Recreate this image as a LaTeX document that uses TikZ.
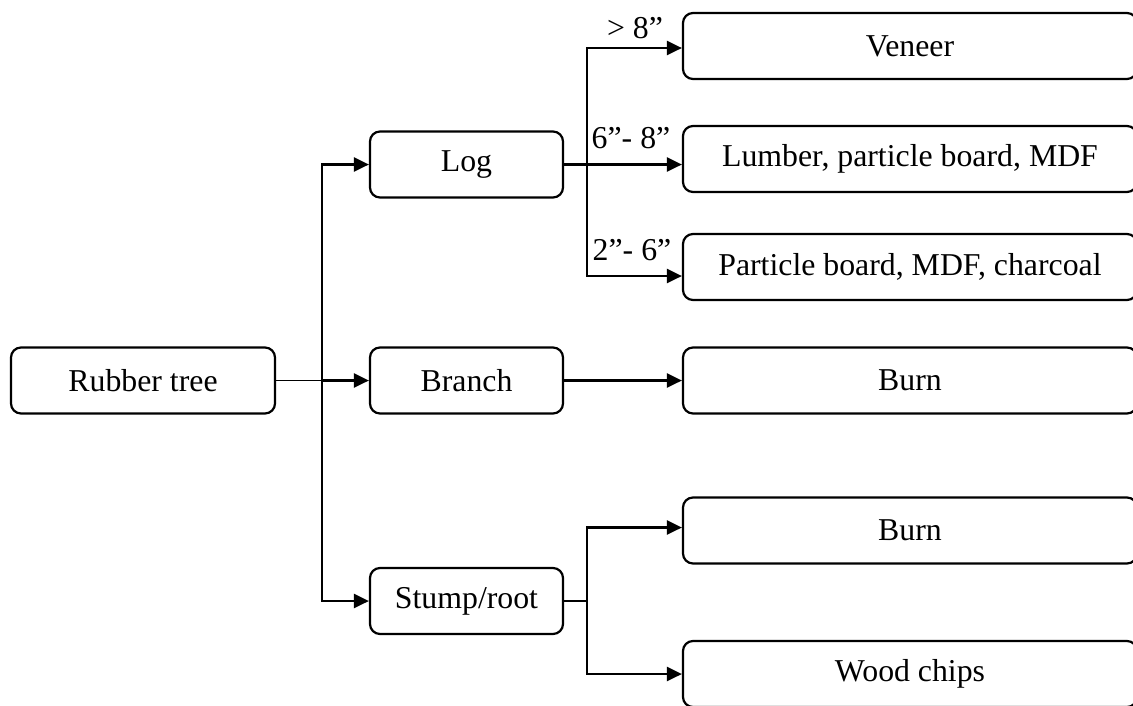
\documentclass[tikz,border=0pt]{standalone}
\usepackage{fontspec}
\setmainfont{Liberation Serif}
\usetikzlibrary{arrows.meta}
\begin{document}
\begin{tikzpicture}[x=1pt,y=-1pt,
  every node/.style={font=\fontsize{31.8}{36}\selectfont},
  lbox/.style={draw, line width=2.2pt, rounded corners=10pt, minimum width=193pt, minimum height=66pt, inner sep=0pt},
  rbox/.style={draw, line width=2.2pt, rounded corners=10pt, minimum width=454pt, minimum height=66pt, inner sep=0pt},
  conn/.style={line width=2.4pt},
  arr/.style={line width=2.4pt, -{Triangle[length=15pt,width=14pt]}},
  tag/.style={anchor=base, inner sep=0pt}]
\useasboundingbox (0,0) rectangle (1133,705);
\clip (0,0) rectangle (1133,705);
% left column
\node[lbox, minimum width=264pt] (rt) at (143,380.5) {Rubber tree};
\node[lbox] (log) at (466.5,164.5) {Log};
\node[lbox] (branch) at (466.5,380.5) {Branch};
\node[lbox] (stump) at (466.5,601) {Stump/root};
% right column
\node[rbox] (veneer) at (910,46) {Veneer};
\node[rbox] (lumber) at (910,159) {Lumber, particle board, MDF};
\node[rbox] (pb) at (910,267) {Particle board, MDF, charcoal};
\node[rbox] (burn1) at (910,380.5) {Burn};
\node[rbox] (burn2) at (910,530.5) {Burn};
\node[rbox] (chips) at (910,674) {Wood chips};
% junctions
\coordinate (j1) at (322,380.5);
\coordinate (j2) at (587,164.5);
\coordinate (j3) at (587,601);
% connectors
\draw[line width=1.6pt] (rt.east) -- (j1);
\draw[arr] (j1) -- (branch.west);
\draw[arr] (j1) |- (log.west);
\draw[arr] (j1) |- (stump.west);
\draw[conn] (log.east) -- (j2);
\draw[arr] (j2) |- ([yshift=-2pt]veneer.west);
\draw[arr] (j2) -- (j2 -| lumber.west);
\draw[arr] (j2) |- ([yshift=-9pt]pb.west);
\draw[arr] (branch.east) -- (burn1.west);
\draw[conn] (stump.east) -- (j3);
\draw[arr] (j3) |- ([yshift=3pt]burn2.west);
\draw[arr] (j3) |- (chips.west);
% size labels
\node[tag] (l1) at (635,38) {> 8”};
\node[tag] (l2) at (631,148) {6”- 8”};
\node[tag] (l3) at (632,260) {2”- 6”};
\end{tikzpicture}
\end{document}
